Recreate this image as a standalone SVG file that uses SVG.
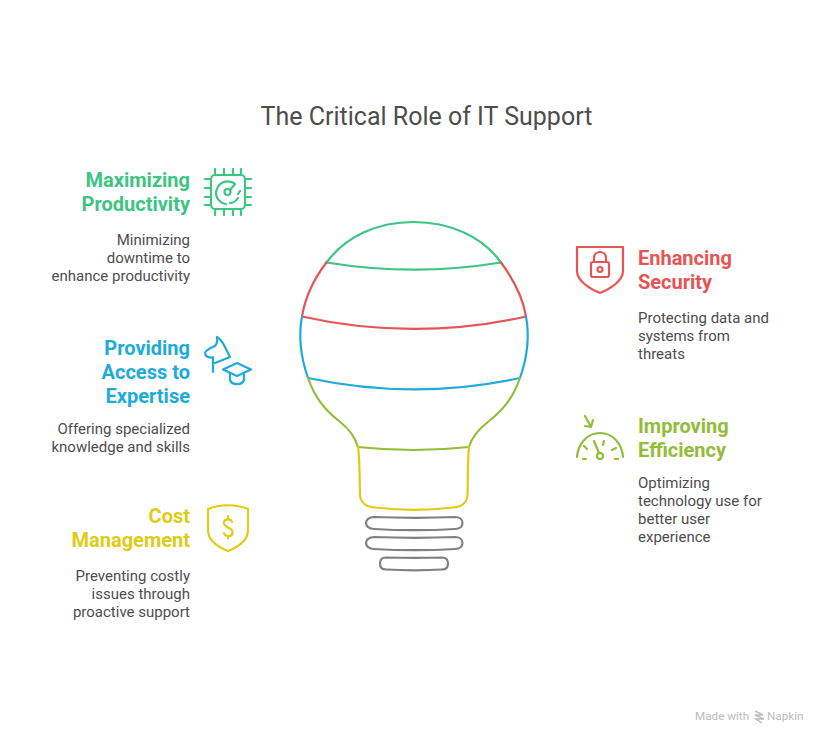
<svg xmlns="http://www.w3.org/2000/svg" width="828" height="744" viewBox="0 0 828 744">
<style>
text{font-family:Roboto,"Liberation Sans",sans-serif}
.t{font-size:25px;fill:#4d4d4d}
.h{font-size:20px;font-weight:700}
.b{font-size:15px;fill:#4d4d4d}
.e{text-anchor:end}
.s{fill:none;stroke-width:2.2;stroke-linecap:round;stroke-linejoin:round}
.g{stroke:#3cc583}.r{stroke:#e65555}.l{stroke:#1eabda}.o{stroke:#92bd39}.y{stroke:#e0cb15}.k{stroke:#808080}
</style>
<rect width="828" height="744" fill="#fff"/>
<text class="t" x="426.500" y="125" text-anchor="middle">The Critical Role of IT Support</text>
<g id="connectors">
<path class="s g" d="M326.500 262.500C346 236 378 222 413.500 222C449 222 482 236 501 262.500"/>
<path class="s g" d="M326.500 262.500C385 272 443 272 501 262.500"/>
<path class="s r" d="M326.500 262.500C313 280 305 298 302 316.500"/>
<path class="s r" d="M501 262.500C514 280 523 298 526 316.500"/>
<path class="s r" d="M302 316.500C375 333 453 333 526 316.500"/>
<path class="s l" d="M302 316.500C298 338 301 358 308 378"/>
<path class="s l" d="M526 316.500C530 338 527 358 520 378"/>
<path class="s l" d="M308 378C378 393 450 393 520 378"/>
<path class="s o" d="M308 378C315 398 325 410 339 421C348 428 355 436 358 447"/>
<path class="s o" d="M520 378C513 398 503 410 489 421C480 428 472 436 469 447"/>
<path class="s o" d="M358 447C395 451 432 451 469 447"/>
<path class="s y" d="M358 447C360 460 359.500 480 360 495C360.500 503 367 507 375 507.500C400 510.500 428 510.500 453 507.500C461 507 467 503 467.500 495C468 480 467.500 460 469 447"/>
<path class="s k" d="M374 517C400 518 430 518 455 517C460 517 462.500 520 462.500 523C462.500 526 460 529 455 529C430 530.500 400 530.500 374 529C369 529 366 526 366 523C366 520 369 517 374 517Z"/>
<path class="s k" d="M374 537C400 538 430 538 455 537C460 537 462.500 540 462.500 543C462.500 546 460 549 455 549C430 550.500 400 550.500 374 549C369 549 366 546 366 543C366 540 369 537 374 537Z"/>
<path class="s k" d="M386 557.500C405 558 425 558 442 557.500C446 557.500 448 560 448 563.500C448 567 446 569.500 442 569.500C425 570.500 405 570.500 386 569.500C382 569.500 380 567 380 563.500C380 560 382 557.500 386 557.500Z"/>
</g>
<g id="node-productivity">
<text class="h e" x="190" y="187" fill="#3cc583">Maximizing</text>
<text class="h e" x="190" y="211" fill="#3cc583">Productivity</text>
<text class="b e" x="190" y="245">Minimizing</text>
<text class="b e" x="190" y="263">downtime to</text>
<text class="b e" x="190" y="281">enhance productivity</text>
<g class="s g">
<rect x="211" y="175" width="34" height="34" rx="4"/>
<path d="M215 169v6M224 169v6M233 169v6M241 169v6M215 209v6M224 209v6M233 209v6M241 209v6M205 179h6M205 188h6M205 197h6M205 205h6M245 179h6M245 188h6M245 197h6M245 205h6"/>
<path d="M234 183C226 179 219 183 217 189C214 196 219 203 226 204M230 203C233 203 236 201 238 198M240 191L238 194"/>
<circle cx="227.500" cy="192" r="3"/>
<path d="M230 190L235 184"/>
</g>
</g>
<g id="node-expertise">
<text class="h e" x="190" y="355" fill="#1eabda">Providing</text>
<text class="h e" x="190" y="379" fill="#1eabda">Access to</text>
<text class="h e" x="190" y="403" fill="#1eabda">Expertise</text>
<text class="b e" x="190" y="434">Offering specialized</text>
<text class="b e" x="190" y="452">knowledge and skills</text>
<g class="s l">
<path d="M217 337C217 341 218 343 215 346C211 348 206 350 205 353C205 356 208 358 213 357.500M217 337C221 339 223 343 225 347L230 357L215 363M213 357V372"/>
<path d="M223 369.500L237 363L251 369.500L237 376Z"/>
<path d="M230 373V380C232 385.500 242 385.500 244 380V373"/>
</g>
</g>
<g id="node-cost">
<text class="h e" x="190" y="523" fill="#e0cb15">Cost</text>
<text class="h e" x="190" y="547" fill="#e0cb15">Management</text>
<text class="b e" x="190" y="581">Preventing costly</text>
<text class="b e" x="190" y="599">issues through</text>
<text class="b e" x="190" y="617">proactive support</text>
<g class="s y">
<path d="M208 509C220 504 236 504 248 509V530C248 540 238 547 228 551C218 547 208 540 208 530Z"/>
<path d="M232 522C231 518.500 224.500 518.500 224 522C223.500 525 226 526.500 228 527.500C230.500 528.500 233 530 232.500 533C232 537 225 537 224 533M228 516V518.500M228 536V538.500"/>
</g>
</g>
<g id="node-security">
<text class="h" x="638" y="265" fill="#e65555">Enhancing</text>
<text class="h" x="638" y="289" fill="#e65555">Security</text>
<text class="b" x="638" y="323">Protecting data and</text>
<text class="b" x="638" y="341">systems from</text>
<text class="b" x="638" y="359">threats</text>
<g class="s r">
<path d="M577 247H623V271C623 281 610 289 600 293C590 289 577 281 577 271Z"/>
<rect x="591" y="262" width="18" height="15" rx="2"/>
<circle cx="600" cy="269.500" r="2.500"/>
<path d="M594 262V258C594 250 606 250 606 258V262"/>
</g>
</g>
<g id="node-efficiency">
<text class="h" x="638" y="433" fill="#92bd39">Improving</text>
<text class="h" x="638" y="457" fill="#92bd39">Efficiency</text>
<text class="b" x="638" y="488">Optimizing</text>
<text class="b" x="638" y="506">technology use for</text>
<text class="b" x="638" y="524">better user</text>
<text class="b" x="638" y="542">experience</text>
<g class="s o">
<path d="M577 457C578 443 588 433 600 433C612 433 622 443 623 457"/>
<path d="M585 416L591 427M585 426L591 427L593 420"/>
<circle cx="600" cy="456" r="3"/>
<path d="M599 453L594 441M584 446L587 449M604 441L603 445M616 448L612 450M583 459H586M615 459H618"/>
</g>
</g>
<g id="watermark">
<text x="695" y="720" font-size="11.700" fill="#bdbdbd">Made with</text>
<path d="M755 711L763 715L755 715L764 719L756 719L762 723" fill="none" stroke="#bdbdbd" stroke-width="1.500"/>
<text x="767" y="720" font-size="11.700" fill="#bdbdbd">Napkin</text>
</g>
</svg>
